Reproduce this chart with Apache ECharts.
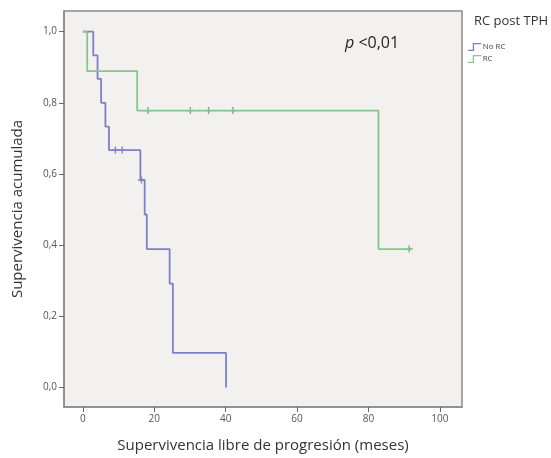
<!DOCTYPE html>
<html>
<head>
<meta charset="utf-8">
<script src="https://cdn.jsdelivr.net/npm/echarts@6/dist/echarts.min.js"></script>
<style>
  html, body { margin: 0; padding: 0; background: #fff; }
  #chart { width: 551px; height: 458px; }
</style>
</head>
<body>
<div id="chart"></div>
<script>
// Kaplan-Meier steps: [meses, supervivencia]
const noRcSteps = [[0, 1], [2.9, 0.933], [4.1, 0.867], [5.1, 0.8], [6.3, 0.733], [7.3, 0.667],
  [16.1, 0.583], [17.3, 0.486], [17.9, 0.389], [24.3, 0.292], [25.2, 0.097], [40.1, 0]];
const noRcCensored = [[9.1, 0.667], [11.0, 0.667], [16.4, 0.583]];

const rcSteps = [[0, 1], [1.2, 0.889], [15.2, 0.778], [82.8, 0.389], [91.4, 0.389]];
const rcCensored = [[18.2, 0.778], [30.1, 0.778], [35.2, 0.778], [42.0, 0.778], [91.4, 0.389]];

const xTicks = [0, 20, 40, 60, 80, 100];
const yTicks = [0, 0.2, 0.4, 0.6, 0.8, 1.0];

const blue = '#7d80c6';
const green = '#86c68a';
const plusPath = 'path://M-0.8,-4H0.8V-0.8H4V0.8H0.8V4H-0.8V0.8H-4V-0.8H-0.8Z';
const stepIcon = 'path://M0,7H5V0H14V1.4H6.4V8.4H0Z';

const chart = echarts.init(document.getElementById('chart'));

const option = {
    backgroundColor: '#ffffff',
    animation: false,
    textStyle: { fontFamily: 'Open Sans' },
    grid: {
        left: 64, right: 89, top: 11, bottom: 51,
        show: true,
        backgroundColor: '#f3f1ef',
        borderColor: '#8c8c8c',
        borderWidth: 1.5,
    },
    legend: {
        orient: 'vertical',
        left: 463,
        top: 38,
        itemWidth: 14,
        itemHeight: 8,
        itemGap: 4,
        data: [
            { name: 'No RC', icon: stepIcon },
            { name: 'RC', icon: stepIcon },
        ],
        textStyle: { fontSize: 8, color: '#444', padding: [0, 0, 0, -4] },
    },
    graphic: [
        {
            type: 'text', left: 474, top: 15,
            style: { text: 'RC post TPH', fontSize: 13, fill: '#333', fontFamily: 'Open Sans' },
        },
        {
            type: 'text', left: 345, top: 35,
            style: {
                text: '{i|p} <0,01',
                fontSize: 16, fill: '#222', fontFamily: 'Open Sans',
                rich: { i: { fontStyle: 'italic', fontSize: 16, fill: '#222', fontFamily: 'Open Sans' } },
            },
        },
    ],
    xAxis: {
        type: 'value',
        min: -5.3,
        max: 106.2,
        name: 'Supervivencia libre de progresión (meses)',
        nameLocation: 'middle',
        nameGap: 31,
        nameTextStyle: { fontSize: 15, color: '#333' },
        axisLine: { show: true, onZero: false, lineStyle: { color: '#8c8c8c', width: 1.5 } },
        axisTick: { show: true, customValues: xTicks, length: 5, lineStyle: { color: '#666' } },
        axisLabel: { customValues: xTicks, fontSize: 10, color: '#555', margin: 7 },
        splitLine: { show: false },
    },
    yAxis: {
        type: 'value',
        min: -0.055,
        max: 1.058,
        name: 'Supervivencia acumulada',
        nameLocation: 'middle',
        nameGap: 39,
        nameTextStyle: { fontSize: 15, color: '#333' },
        axisLine: { show: true, onZero: false, lineStyle: { color: '#8c8c8c', width: 1.5 } },
        axisTick: { show: true, customValues: yTicks, length: 5, lineStyle: { color: '#666' } },
        axisLabel: {
            customValues: yTicks, fontSize: 10, color: '#555', margin: 7,
            formatter: (v) => v.toFixed(1).replace('.', ','),
        },
        splitLine: { show: false },
    },
    series: [
        {
            name: 'No RC', type: 'line', step: 'end', data: noRcSteps,
            showSymbol: false, symbol: 'none',
            lineStyle: { color: blue, width: 1.8 },
            itemStyle: { color: blue },
        },
        {
            name: 'RC', type: 'line', step: 'end', data: rcSteps,
            showSymbol: false, symbol: 'none',
            lineStyle: { color: green, width: 1.8 },
            itemStyle: { color: green },
        },
        {
            name: 'No RC', type: 'scatter', data: noRcCensored,
            symbol: plusPath, symbolSize: 7,
            itemStyle: { color: '#6a6da8' },
        },
        {
            name: 'RC', type: 'scatter', data: rcCensored,
            symbol: plusPath, symbolSize: 7,
            itemStyle: { color: '#5f9a63' },
        },
    ],
};

chart.setOption(option);
</script>
</body>
</html>
